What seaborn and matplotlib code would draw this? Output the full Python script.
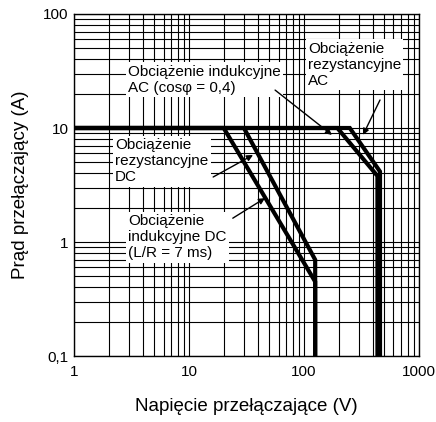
import numpy as np
import pandas as pd
import seaborn as sns
import matplotlib.pyplot as plt
from matplotlib.ticker import FixedLocator, FixedFormatter, LogLocator, NullFormatter

sns.set_style("white")
plt.rcParams['font.family'] = ['Liberation Sans', 'DejaVu Sans']
plt.rcParams['text.color'] = 'black'
plt.rcParams['axes.labelcolor'] = 'black'
plt.rcParams['xtick.color'] = 'black'
plt.rcParams['ytick.color'] = 'black'

# switching curves (voltage V, current A)
ind_dc_v = [1, 20, 125, 125]
ind_dc_i = [10, 10, 0.45, 0.1]
res_dc_v = [1, 30, 125, 125]
res_dc_i = [10, 10, 0.7, 0.1]
ind_ac_v = [1, 195, 435, 435]
ind_ac_i = [10, 10, 3.8, 0.1]
res_ac_v = [1, 250, 458, 458]
res_ac_i = [10, 10, 4.15, 0.1]

x_ticks = [1, 10, 100, 1000]
x_labels = ["1", "10", "100", "1000"]
y_ticks = [0.1, 1, 10, 100]
y_labels = ["0,1", "1", "10", "100"]

# label text, text anchor (top-left), arrow tail, arrow tip
notes = [
    ("Obciążenie indukcyjne\nAC (cos\u03c6 = 0,4)", (2.95, 36), (56, 21.5), (175, 8.7)),
    ("Obciążenie\nrezystancyjne\nAC", (108, 57), (458, 17.6), (326, 8.7)),
    ("Obciążenie\nrezystancyjne\nDC", (2.27, 8.2), (16.2, 3.72), (36, 5.8)),
    ("Obciążenie\nindukcyjne DC\n(L/R = 7 ms)", (2.95, 1.76), (24, 1.62), (45.8, 2.43)),
]


def main():
    fig = plt.figure(figsize=(4.36, 4.22), dpi=100)
    ax = fig.add_axes([0.170, 0.156, 0.791, 0.811])

    curves = [(ind_dc_v, ind_dc_i), (res_dc_v, res_dc_i),
              (ind_ac_v, ind_ac_i), (res_ac_v, res_ac_i)]
    for v, i in curves:
        df = pd.DataFrame({"V": v, "I": i})
        sns.lineplot(data=df, x="V", y="I", sort=False, estimator=None,
                     errorbar=None, ax=ax, color="black", lw=3,
                     solid_joinstyle="miter", zorder=4)

    ax.set_xscale("log")
    ax.set_yscale("log")
    ax.set_xlim(1, 1000)
    ax.set_ylim(0.1, 100)

    ax.xaxis.set_major_locator(FixedLocator(x_ticks))
    ax.xaxis.set_major_formatter(FixedFormatter(x_labels))
    ax.yaxis.set_major_locator(FixedLocator(y_ticks))
    ax.yaxis.set_major_formatter(FixedFormatter(y_labels))
    for axis in (ax.xaxis, ax.yaxis):
        axis.set_minor_locator(LogLocator(base=10, subs=np.arange(2, 10)))
        axis.set_minor_formatter(NullFormatter())

    ax.grid(True, which="both", color="black", lw=0.8, zorder=1)
    ax.set_axisbelow(True)
    ax.tick_params(which="both", length=0, labelsize=11)
    ax.tick_params(axis="x", pad=6)
    ax.tick_params(axis="y", pad=4)
    for s in ax.spines.values():
        s.set_color("black")
        s.set_linewidth(1)

    for label, pos, tail, tip in notes:
        ax.text(pos[0], pos[1], label, ha="left", va="top", fontsize=11,
                linespacing=1.2, zorder=5,
                bbox=dict(boxstyle="square,pad=0.15", fc="white", ec="none"))
        ax.annotate("", xy=tip, xytext=tail, zorder=6,
                    arrowprops=dict(arrowstyle="-|>", color="black", lw=1,
                                    shrinkA=0, shrinkB=0, mutation_scale=9))

    ax.set_xlabel("Napięcie przełączające (V)", fontsize=13.5, labelpad=14)
    ax.set_ylabel("Prąd przełączający (A)", fontsize=13.5, labelpad=10)

    fig.savefig("out.png", dpi=100)


if __name__ == "__main__":
    main()
